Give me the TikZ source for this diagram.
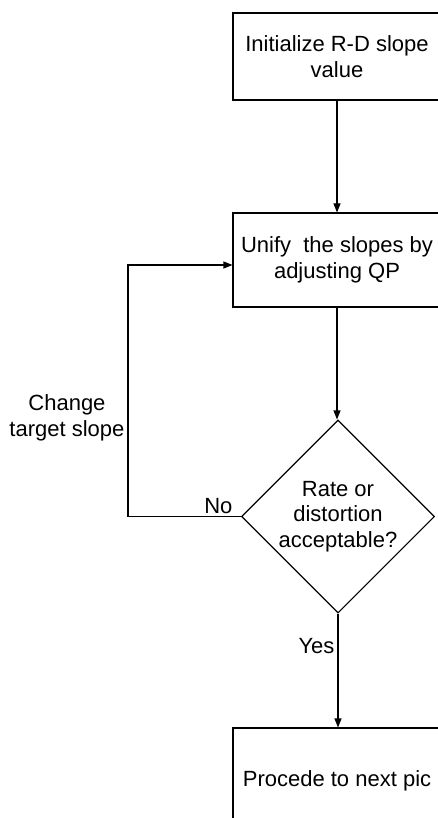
\documentclass[tikz,border=0pt]{standalone}
\usepackage{fontspec}
\setmainfont{Liberation Sans}
\usetikzlibrary{shapes.geometric,arrows.meta}
\begin{document}
\begin{tikzpicture}[x=1pt,y=-1pt, line width=1.1pt,
  txt/.style={font=\fontsize{22}{25.5}\selectfont},
  box/.style={txt, draw, rectangle, minimum width=208pt, inner sep=0pt, align=center},
  dec/.style={txt, draw, diamond, minimum width=193pt, minimum height=193pt, inner sep=0pt, align=center},
  arr/.style={-{Triangle[length=9pt,width=7pt]}},
  lbl/.style={txt, inner sep=0pt, align=center}]
\useasboundingbox (0,0) rectangle (438,818);
\clip (0,0) rectangle (438,818);
\node[box, minimum height=87pt] (b1) at (337,56.5) {Initialize R-D slope\\value};
\node[box, minimum height=94pt] (b2) at (337,260) {Unify~ the slopes by\\adjusting QP};
\node[dec] (d) at (338,516.5) {Rate or\\distortion\\acceptable?};
\node[box, minimum height=106pt] (b3) at (337,781) {Procede to next pic};
\coordinate (lp) at (128,265);
\draw[arr] (b1.south) -- (b2.north);
\draw[arr] (b2.south) -- (b2.south |- d.north);
\draw[arr] (d.south) -- (d.south |- b3.north);
\draw[arr] (d.west) -| (lp) -- (lp -| b2.west);
\node[lbl, anchor=base east] (no) at (233,513) {No};
\node[lbl, anchor=base east] (yes) at (335,653) {Yes};
\node[lbl, anchor=east] (chg) at (125,418) {Change\\target slope};
\end{tikzpicture}
\end{document}
